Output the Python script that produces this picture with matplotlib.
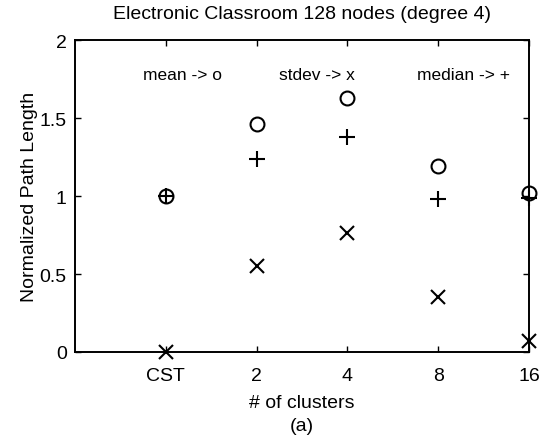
import numpy as np
import matplotlib
matplotlib.use("Agg")
import matplotlib.pyplot as plt

plt.rcParams['font.family'] = ['Liberation Sans', 'DejaVu Sans']

# cluster configurations on the x axis
labels = ["CST", "2", "4", "8", "16"]
positions = [1, 2, 3, 4, 5]

# normalized path length statistics per configuration
mean_vals = [1.00, 1.46, 1.63, 1.19, 1.02]
median_vals = [1.00, 1.24, 1.38, 0.98, 0.99]
stdev_vals = [0.00, 0.55, 0.76, 0.35, 0.07]

fig = plt.figure(figsize=(5.45, 4.39), dpi=100)
ax = fig.add_axes([0.1376, 0.1959, 0.8330, 0.7107])

mk = dict(linestyle='none', color='black', clip_on=False, zorder=3)
ax.plot(positions, mean_vals, marker='o', markersize=10, markerfacecolor='none',
        markeredgewidth=1.5, **mk)
ax.plot(positions, stdev_vals, marker='x', markersize=10, markeredgewidth=1.5, **mk)
ax.plot(positions, median_vals, marker='+', markersize=11, markeredgewidth=1.5, **mk)

ax.text(0.75, 1.78, "mean -> o", fontsize=12.5, va='center')
ax.text(2.25, 1.78, "stdev -> x", fontsize=12.5, va='center')
ax.text(3.77, 1.78, "median -> +", fontsize=12.5, va='center')

ax.set_xlim(0, 5)
ax.set_ylim(0, 2)
ax.set_xticks(positions)
ax.set_xticklabels(labels)
ax.set_yticks([0, 0.5, 1, 1.5, 2])
ax.set_yticklabels(["0", "0.5", "1", "1.5", "2"])
ax.tick_params(direction='in', top=True, right=True, length=4, width=1,
               labelsize=14)
ax.tick_params(axis='x', pad=11)
ax.tick_params(axis='y', pad=6)
for s in ax.spines.values():
    s.set_linewidth(1.4)

ax.set_title("Electronic Classroom 128 nodes (degree 4)", fontsize=14, pad=16)
ax.set_ylabel("Normalized Path Length", fontsize=14, labelpad=1)
ax.set_xlabel("# of clusters\n(a)", fontsize=14, labelpad=7, linespacing=1.45)

fig.savefig("out.png", dpi=100)
